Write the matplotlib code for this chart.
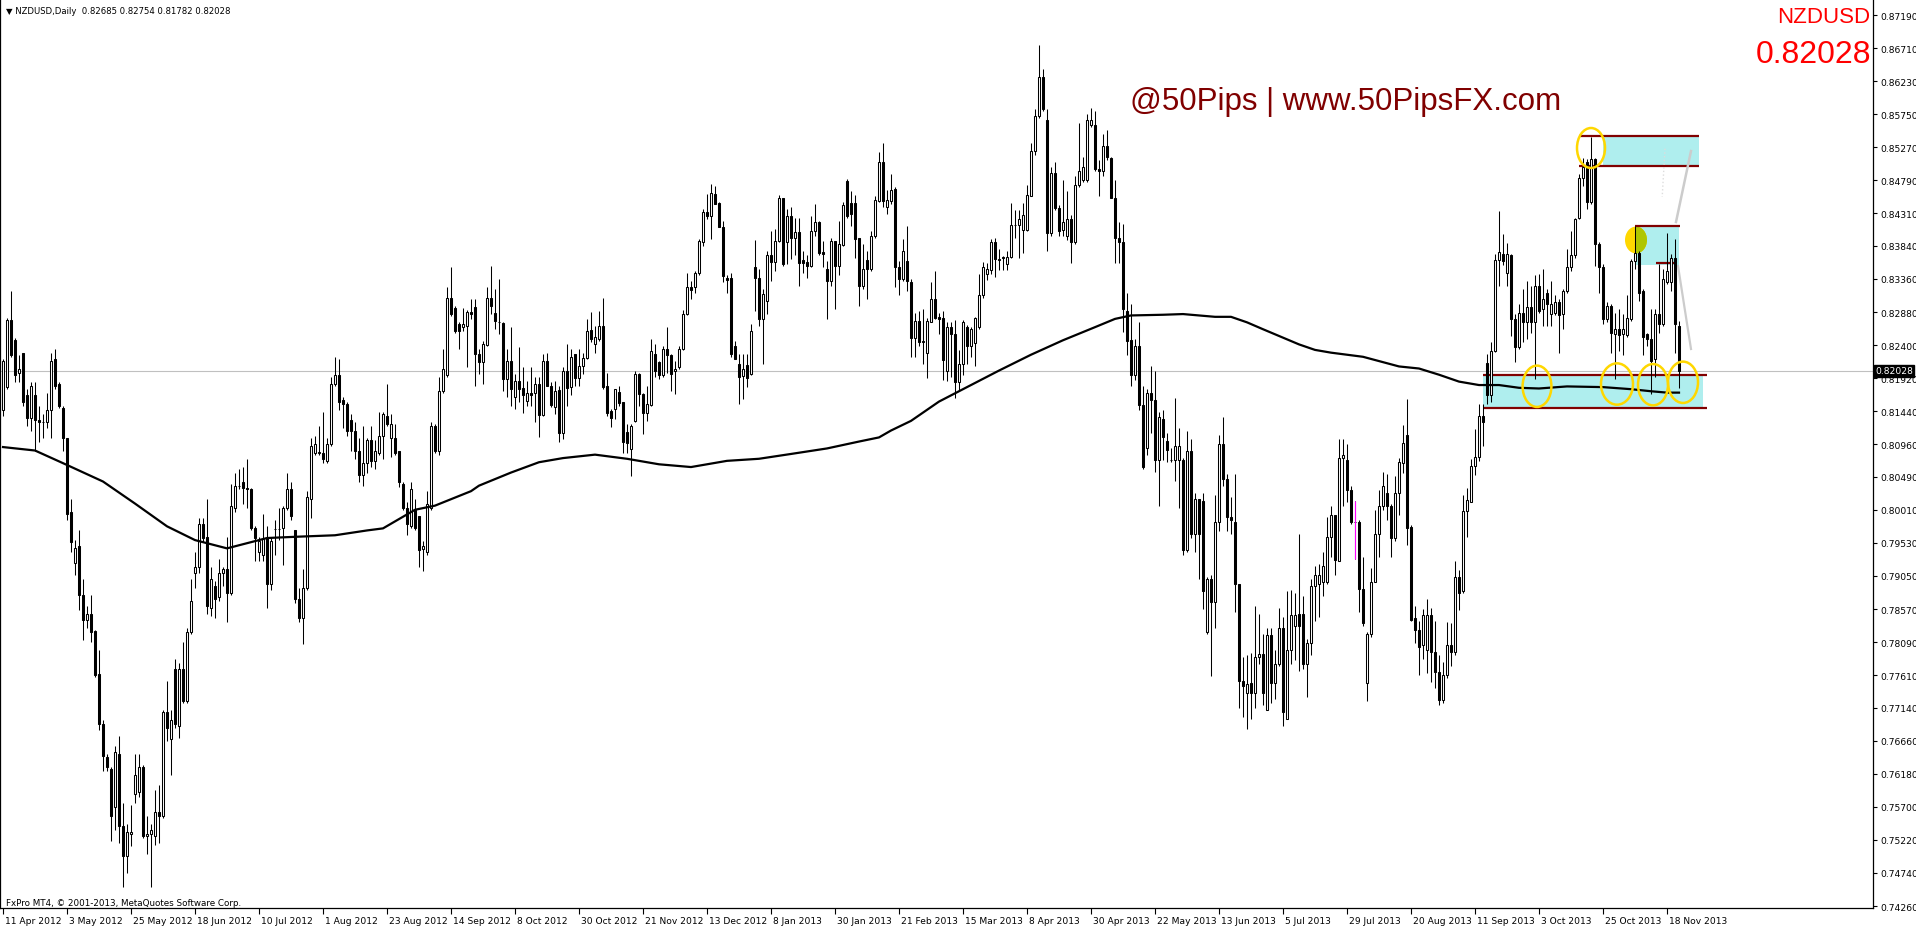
import matplotlib.pyplot as plt
import numpy as np
from matplotlib.patches import Ellipse, Rectangle
from matplotlib import transforms

# NZDUSD daily candles, prices in 1/10000, 11 Apr 2012 .. 21 Nov 2013
opens = [
    8146, 8179, 8276, 8247, 8199, 8229, 8167, 8134, 8167, 8131,
    8128, 8128, 8146, 8220, 8184, 8149, 8105, 7998, 7924, 7948,
    7877, 7841, 7850, 7825, 7762, 7690, 7642, 7625, 7569, 7646,
    7542, 7498, 7531, 7589, 7592, 7628, 7527, 7531, 7527, 7563,
    7557, 7708, 7669, 7770, 7687, 7770, 7723, 7823, 7909, 7918,
    7980, 7962, 7859, 7891, 7874, 7909, 7915, 7880, 8004, 8036,
    8041, 8033, 8031, 7974, 7939, 7936, 7960, 7894, 7973, 7973,
    7974, 8004, 8031, 7971, 7871, 7844, 7888, 8016, 8084, 8084,
    8084, 8072, 8096, 8184, 8196, 8161, 8155, 8131, 8116, 8087,
    8051, 8069, 8102, 8072, 8084, 8108, 8137, 8105, 8105, 8087,
    8039, 8004, 7977, 8001, 7992, 7944, 7939, 8004, 8122, 8087,
    8173, 8196, 8309, 8294, 8270, 8266, 8267, 8288, 8295, 8227,
    8215, 8240, 8309, 8287, 8274, 8272, 8191, 8217, 8164, 8188,
    8177, 8159, 8171, 8171, 8183, 8138, 8217, 8181, 8150, 8175,
    8113, 8203, 8179, 8227, 8192, 8210, 8221, 8262, 8241, 8249,
    8267, 8181, 8145, 8147, 8172, 8158, 8114, 8089, 8130, 8198,
    8169, 8142, 8153, 8227, 8215, 8196, 8234, 8225, 8203, 8208,
    8234, 8285, 8324, 8324, 8345, 8390, 8433, 8428, 8459, 8446,
    8411, 8338, 8337, 8239, 8213, 8195, 8211, 8198, 8353, 8338,
    8278, 8304, 8370, 8360, 8391, 8453, 8389, 8428, 8395, 8404,
    8363, 8361, 8355, 8405, 8418, 8375, 8351, 8333, 8391, 8355,
    8385, 8478, 8446, 8446, 8395, 8326, 8364, 8350, 8398, 8449,
    8505, 8441, 8449, 8466, 8353, 8336, 8362, 8331, 8250, 8275,
    8244, 8229, 8274, 8307, 8281, 8279, 8203, 8266, 8256, 8186,
    8213, 8266, 8239, 8243, 8266, 8313, 8343, 8349, 8389, 8364,
    8367, 8358, 8368, 8414, 8414, 8407, 8407, 8456, 8522, 8572,
    8629, 8566, 8403, 8489, 8439, 8407, 8399, 8423, 8389, 8473,
    8479, 8479, 8560, 8560, 8496, 8493, 8529, 8511, 8454, 8396,
    8389, 8289, 8247, 8196, 8238, 8153, 8090, 8170, 8161, 8073,
    8133, 8101, 8073, 8073, 8073, 8073, 7943, 8086, 7966, 8016,
    8014, 7823, 7900, 7867, 7983, 8096, 8046, 7990, 7983, 7893,
    7753, 7735, 7750, 7735, 7787, 7792, 7710, 7819, 7750, 7777,
    7830, 7697, 7797, 7833, 7850, 7850, 7777, 7807, 7890, 7893,
    7896, 7896, 7961, 7994, 7926, 8076, 8073, 8030, 7983, 7983,
    7886, 7750, 7820, 7896, 7966, 8006, 8026, 8006, 7960, 8025,
    8069, 8109, 7976, 7844, 7826, 7805, 7797, 7849, 7795, 7766,
    7725, 7761, 7805, 7795, 7903, 7883, 7999, 8012, 8064, 8077,
    8137, 8214, 8168, 8232, 8364, 8372, 8344, 8370, 8278, 8237,
    8287, 8273, 8295, 8273, 8326, 8292, 8316, 8285, 8287, 8302,
    8285, 8319, 8353, 8370, 8425, 8483, 8505, 8447, 8510, 8387,
    8353, 8278, 8297, 8256, 8263, 8256, 8254, 8278, 8362, 8374,
    8319, 8256, 8249, 8220, 8285, 8271, 8331, 8331, 8367, 8268,
]
highs = [
    8220, 8279, 8318, 8250, 8226, 8229, 8176, 8187, 8187, 8152,
    8140, 8170, 8229, 8235, 8187, 8152, 8105, 8016, 7957, 7971,
    7900, 7862, 7877, 7826, 7797, 7696, 7646, 7628, 7658, 7672,
    7575, 7545, 7572, 7646, 7646, 7631, 7557, 7545, 7595, 7601,
    7711, 7752, 7711, 7785, 7779, 7809, 7829, 7900, 7939, 7989,
    7989, 8016, 7918, 7897, 7930, 7918, 7962, 8039, 8054, 8060,
    8063, 8075, 8033, 7977, 7962, 7995, 7977, 7962, 7986, 8004,
    8007, 8054, 8042, 7971, 7888, 7915, 8028, 8105, 8108, 8122,
    8143, 8105, 8193, 8223, 8220, 8164, 8158, 8140, 8128, 8105,
    8122, 8105, 8122, 8102, 8143, 8143, 8184, 8140, 8125, 8087,
    8042, 8013, 8042, 8016, 7992, 7956, 8028, 8128, 8125, 8193,
    8235, 8324, 8353, 8297, 8273, 8294, 8291, 8307, 8307, 8234,
    8246, 8324, 8355, 8321, 8336, 8273, 8234, 8266, 8198, 8237,
    8208, 8188, 8208, 8193, 8193, 8227, 8229, 8186, 8188, 8181,
    8208, 8241, 8234, 8227, 8234, 8229, 8278, 8288, 8268, 8290,
    8308, 8200, 8147, 8176, 8181, 8158, 8125, 8125, 8203, 8200,
    8171, 8181, 8249, 8241, 8217, 8239, 8266, 8227, 8217, 8239,
    8291, 8345, 8333, 8348, 8394, 8437, 8459, 8474, 8471, 8447,
    8420, 8341, 8345, 8246, 8227, 8227, 8227, 8271, 8393, 8350,
    8321, 8377, 8406, 8408, 8458, 8454, 8437, 8440, 8425, 8425,
    8377, 8371, 8428, 8445, 8420, 8391, 8362, 8396, 8391, 8420,
    8447, 8481, 8464, 8458, 8396, 8387, 8377, 8406, 8457, 8520,
    8533, 8465, 8488, 8469, 8362, 8394, 8413, 8336, 8287, 8290,
    8292, 8279, 8331, 8348, 8286, 8289, 8273, 8273, 8276, 8233,
    8276, 8269, 8266, 8281, 8343, 8361, 8359, 8394, 8396, 8379,
    8369, 8376, 8446, 8436, 8436, 8446, 8473, 8533, 8582, 8676,
    8640, 8582, 8499, 8506, 8443, 8479, 8463, 8429, 8486, 8562,
    8513, 8576, 8584, 8579, 8509, 8547, 8552, 8513, 8479, 8419,
    8416, 8316, 8299, 8249, 8273, 8180, 8176, 8209, 8203, 8143,
    8146, 8113, 8090, 8163, 8120, 8076, 8116, 8103, 8026, 8016,
    8026, 7903, 7906, 8023, 8110, 8136, 8053, 8020, 8053, 7893,
    7787, 7790, 7793, 7861, 7850, 7820, 7830, 7830, 7797, 7858,
    7846, 7883, 7885, 7880, 7966, 7876, 7813, 7900, 7920, 7923,
    7940, 7990, 8006, 7994, 8103, 8103, 8096, 8036, 8014, 7986,
    7933, 7823, 7916, 8000, 8030, 8056, 8053, 8010, 8050, 8076,
    8124, 8162, 7979, 7862, 7839, 7857, 7872, 7859, 7839, 7790,
    7780, 7838, 7836, 7926, 7913, 8023, 8033, 8074, 8118, 8155,
    8155, 8227, 8245, 8372, 8434, 8401, 8388, 8372, 8285, 8299,
    8321, 8333, 8326, 8341, 8343, 8350, 8321, 8333, 8312, 8307,
    8321, 8379, 8406, 8425, 8488, 8512, 8510, 8542, 8512, 8389,
    8358, 8302, 8299, 8287, 8292, 8285, 8312, 8365, 8413, 8377,
    8321, 8258, 8292, 8292, 8358, 8350, 8403, 8372, 8394, 8275,
]
lows = [
    8137, 8176, 8223, 8187, 8187, 8152, 8122, 8116, 8087, 8099,
    8105, 8119, 8105, 8176, 8149, 8087, 7986, 7939, 7906, 7856,
    7812, 7829, 7809, 7758, 7681, 7622, 7622, 7521, 7536, 7518,
    7453, 7474, 7513, 7575, 7584, 7524, 7501, 7453, 7515, 7518,
    7554, 7666, 7616, 7684, 7670, 7720, 7720, 7820, 7888, 7909,
    7954, 7850, 7847, 7844, 7868, 7891, 7838, 7877, 7998, 8031,
    8010, 8004, 7971, 7927, 7927, 7927, 7859, 7885, 7936, 7957,
    7921, 8001, 7986, 7865, 7838, 7806, 7885, 7989, 8081, 8081,
    8069, 8069, 8093, 8181, 8146, 8119, 8108, 8087, 8075, 8042,
    8036, 8054, 8063, 8060, 8081, 8075, 8122, 8078, 8081, 8034,
    8001, 7965, 7974, 7971, 7918, 7912, 7936, 8001, 8084, 8081,
    8170, 8193, 8282, 8258, 8235, 8261, 8208, 8278, 8181, 8198,
    8183, 8239, 8285, 8263, 8256, 8174, 8164, 8152, 8147, 8157,
    8142, 8152, 8152, 8128, 8106, 8137, 8181, 8150, 8140, 8099,
    8104, 8152, 8167, 8181, 8181, 8198, 8220, 8244, 8229, 8246,
    8176, 8137, 8121, 8133, 8152, 8084, 8084, 8050, 8128, 8152,
    8111, 8130, 8152, 8193, 8191, 8193, 8200, 8174, 8169, 8205,
    8233, 8283, 8307, 8316, 8341, 8384, 8423, 8394, 8445, 8411,
    8331, 8316, 8222, 8220, 8154, 8162, 8179, 8197, 8290, 8268,
    8212, 8285, 8333, 8348, 8389, 8355, 8358, 8365, 8371, 8326,
    8345, 8338, 8353, 8399, 8370, 8353, 8278, 8326, 8292, 8341,
    8384, 8425, 8413, 8367, 8296, 8321, 8307, 8348, 8396, 8447,
    8440, 8430, 8445, 8324, 8312, 8333, 8319, 8222, 8222, 8239,
    8212, 8192, 8273, 8278, 8256, 8189, 8188, 8193, 8163, 8173,
    8196, 8213, 8223, 8209, 8263, 8309, 8334, 8343, 8339, 8349,
    8349, 8349, 8366, 8396, 8366, 8373, 8406, 8456, 8516, 8569,
    8579, 8376, 8399, 8436, 8399, 8399, 8393, 8359, 8386, 8469,
    8476, 8476, 8556, 8493, 8456, 8486, 8509, 8453, 8359, 8359,
    8259, 8226, 8180, 8189, 8146, 8060, 8080, 8113, 8056, 8006,
    8073, 8070, 8070, 8043, 8003, 7936, 7940, 7960, 7940, 7900,
    7857, 7820, 7760, 7830, 7970, 8036, 7970, 7966, 7853, 7713,
    7700, 7683, 7697, 7713, 7777, 7717, 7710, 7720, 7727, 7774,
    7687, 7697, 7777, 7783, 7767, 7770, 7730, 7790, 7840, 7846,
    7876, 7893, 7933, 7906, 7926, 8006, 8013, 7980, 7930, 7853,
    7833, 7723, 7817, 7896, 7933, 8000, 7986, 7933, 7956, 7993,
    8054, 7950, 7839, 7808, 7761, 7784, 7764, 7751, 7743, 7717,
    7720, 7757, 7774, 7790, 7855, 7880, 7961, 8012, 8051, 8072,
    8093, 8155, 8157, 8230, 8326, 8356, 8326, 8253, 8215, 8234,
    8244, 8249, 8258, 8191, 8287, 8268, 8268, 8268, 8283, 8229,
    8263, 8316, 8348, 8367, 8423, 8471, 8437, 8445, 8355, 8316,
    8271, 8273, 8229, 8191, 8232, 8225, 8251, 8275, 8350, 8304,
    8225, 8239, 8169, 8193, 8258, 8268, 8329, 8319, 8229, 8178,
]
closes = [
    8217, 8276, 8226, 8196, 8206, 8158, 8134, 8181, 8131, 8129,
    8128, 8146, 8217, 8181, 8152, 8105, 7995, 7954, 7945, 7877,
    7841, 7850, 7823, 7761, 7690, 7643, 7628, 7557, 7649, 7542,
    7498, 7533, 7533, 7616, 7628, 7527, 7530, 7536, 7563, 7557,
    7708, 7684, 7696, 7690, 7770, 7723, 7823, 7868, 7918, 7980,
    7960, 7862, 7900, 7871, 7909, 7915, 7880, 8007, 8036, 8036,
    8033, 8031, 7974, 7960, 7956, 7959, 7894, 7956, 7973, 7973,
    8004, 8031, 7992, 7871, 7844, 7888, 8019, 8093, 8096, 8084,
    8075, 8096, 8184, 8196, 8158, 8155, 8116, 8116, 8087, 8051,
    8069, 8102, 8072, 8087, 8108, 8140, 8125, 8125, 8084, 8042,
    8004, 7980, 8031, 7974, 7942, 7948, 8010, 8122, 8087, 8173,
    8205, 8309, 8285, 8261, 8260, 8270, 8288, 8285, 8227, 8215,
    8241, 8309, 8297, 8275, 8274, 8191, 8217, 8176, 8188, 8176,
    8167, 8171, 8168, 8183, 8138, 8217, 8181, 8153, 8174, 8113,
    8203, 8177, 8222, 8192, 8210, 8221, 8261, 8249, 8251, 8267,
    8179, 8142, 8134, 8176, 8156, 8099, 8098, 8123, 8198, 8169,
    8142, 8154, 8232, 8203, 8196, 8235, 8225, 8198, 8206, 8235,
    8285, 8324, 8320, 8345, 8391, 8433, 8428, 8461, 8445, 8412,
    8340, 8335, 8227, 8220, 8193, 8205, 8192, 8261, 8337, 8278,
    8314, 8370, 8360, 8391, 8454, 8358, 8428, 8395, 8404, 8359,
    8359, 8355, 8405, 8419, 8374, 8372, 8333, 8391, 8355, 8387,
    8443, 8428, 8430, 8394, 8326, 8351, 8350, 8399, 8450, 8505,
    8449, 8450, 8465, 8353, 8336, 8377, 8333, 8250, 8275, 8244,
    8246, 8275, 8307, 8280, 8278, 8218, 8266, 8256, 8186, 8213,
    8273, 8239, 8263, 8279, 8313, 8353, 8351, 8389, 8365, 8364,
    8367, 8368, 8414, 8414, 8423, 8429, 8458, 8522, 8572, 8629,
    8582, 8403, 8489, 8439, 8406, 8419, 8423, 8389, 8473, 8493,
    8499, 8566, 8566, 8496, 8493, 8529, 8513, 8454, 8396, 8389,
    8293, 8246, 8196, 8239, 8153, 8063, 8170, 8160, 8073, 8136,
    8106, 8088, 8073, 8093, 8093, 7943, 8086, 7966, 8016, 7966,
    7883, 7900, 7867, 7983, 8096, 8046, 7990, 7986, 7893, 7753,
    7745, 7748, 7735, 7788, 7792, 7735, 7819, 7750, 7777, 7830,
    7707, 7797, 7848, 7848, 7833, 7777, 7807, 7890, 7906, 7906,
    7920, 7961, 7993, 7928, 8076, 8081, 8030, 7983, 7983, 7886,
    7836, 7820, 7896, 7966, 8006, 8036, 8006, 7960, 8026, 8070,
    8098, 7974, 7841, 7826, 7802, 7849, 7849, 7795, 7766, 7725,
    7761, 7805, 7795, 7903, 7880, 7999, 8015, 8064, 8077, 8137,
    8129, 8168, 8232, 8364, 8375, 8362, 8372, 8278, 8237, 8287,
    8273, 8295, 8273, 8326, 8290, 8307, 8300, 8300, 8302, 8283,
    8319, 8353, 8370, 8423, 8483, 8498, 8447, 8510, 8387, 8353,
    8278, 8297, 8258, 8263, 8254, 8263, 8280, 8362, 8374, 8316,
    8251, 8249, 8217, 8285, 8271, 8336, 8348, 8367, 8271, 8203,
]

# moving average line, read at points along the curve (bar index, price/10000)
ma_idx = [0, 8, 16, 25, 33, 41, 48, 56, 66, 74, 83, 91, 95, 103, 108, 117, 119, 127, 134, 140,
          148, 156, 164, 172, 181, 189, 197, 206, 214, 219, 222, 227, 234, 240, 249, 257, 265, 273, 278, 282,
          290, 295, 303, 307, 311, 315, 324, 328, 332, 340, 349, 354, 359, 364, 369, 374, 379, 384, 391, 400,
          407, 412, 416, 419]
ma_val = [8092, 8087, 8066, 8042, 8010, 7977, 7957, 7945, 7960, 7962, 7964, 7971, 7974, 8001, 8007, 8028, 8036, 8055, 8070, 8076,
          8081, 8075, 8067, 8063, 8072, 8075, 8082, 8090, 8100, 8106, 8116, 8130, 8158, 8176, 8203, 8226, 8247, 8266, 8278, 8283,
          8284, 8285, 8281, 8281, 8273, 8263, 8241, 8233, 8229, 8223, 8209, 8206, 8197, 8187, 8182, 8182, 8178, 8177, 8180, 8179,
          8176, 8173, 8171, 8171]

date_labels = ["11 Apr 2012", "3 May 2012", "25 May 2012", "18 Jun 2012", "10 Jul 2012", "1 Aug 2012",
               "23 Aug 2012", "14 Sep 2012", "8 Oct 2012", "30 Oct 2012", "21 Nov 2012", "13 Dec 2012",
               "8 Jan 2013", "30 Jan 2013", "21 Feb 2013", "15 Mar 2013", "8 Apr 2013", "30 Apr 2013",
               "22 May 2013", "13 Jun 2013", "5 Jul 2013", "29 Jul 2013", "20 Aug 2013", "11 Sep 2013",
               "3 Oct 2013", "25 Oct 2013", "18 Nov 2013"]
price_ticks = [0.87190, 0.86710, 0.86230, 0.85750, 0.85270, 0.84790, 0.84310, 0.83840, 0.83360, 0.82880,
               0.82400, 0.81920, 0.81440, 0.80960, 0.80490, 0.80010, 0.79530, 0.79050, 0.78570, 0.78090,
               0.77610, 0.77140, 0.76660, 0.76180, 0.75700, 0.75220, 0.74740, 0.74260]
bid = 0.82028

plt.rcParams['font.family'] = ['DejaVu Sans']

o = np.array(opens) / 10000
c = np.array(closes) / 10000
h = np.maximum(np.array(highs) / 10000, np.maximum(o, c))
l = np.minimum(np.array(lows) / 10000, np.minimum(o, c))
x = np.arange(len(c))

W, H = 1916, 928
fig = plt.figure(figsize=(W / 100, H / 100), dpi=100)
ax = fig.add_axes([0, 1 - 909 / H, 1873 / W, 909 / H])
ax.set_xlim(-0.75, 467.5)
ax.set_ylim(0.74231, 0.874222)

# zones (background)
cyan = '#afeeee'
red = '#800000'
ax.fill_between([370, 425], 0.81491, 0.81966, color=cyan, lw=0, zorder=0.5)
ax.fill_between([400, 424], 0.85003, 0.85438, color=cyan, lw=0, zorder=0.5)
ax.fill_between([408.3, 419], 0.83566, 0.84132, color=cyan, lw=0, zorder=0.5)
ax.hlines([0.81966, 0.81491], 370, 426, color=red, lw=1.6, zorder=2)
ax.hlines([0.85438, 0.85003], 394, 424, color=red, lw=1.6, zorder=2)
ax.hlines(0.84132, 408, 419.25, color=red, lw=1.6, zorder=2)
ax.hlines(0.83587, 413.2, 418.4, color=red, lw=1.6, zorder=2)

# filled dot, olive where it overlaps the cyan zone
ax.add_patch(Ellipse((408.25, 0.83925), 5.5, 0.0039, fc='#ffd700', ec='none', zorder=1))
olive = Ellipse((408.25, 0.83925), 5.5, 0.0039, fc='#afc600', ec='none', zorder=1.1)
ax.add_patch(olive)
olive.set_clip_path(Rectangle((408.3, 0.83566), 10.7, 0.00566, transform=ax.transData))

ax.axhline(bid, color='#c0c0c0', lw=0.8, zorder=1)

# candles
up = c >= o
ax.vlines(x, l, h, color='black', lw=0.75, zorder=3)
ax.bar(x, np.maximum(np.abs(c - o), 0.00002), bottom=np.minimum(o, c), width=0.5,
       color=np.where(up, 'white', 'black'), edgecolor='black', lw=0.75, zorder=4)
ax.vlines(338, 0.7930, 0.8014, color='magenta', lw=0.8, zorder=4.5)

ax.plot(ma_idx, np.array(ma_val) / 10000, color='black', lw=1.6, zorder=5)

# trend lines and circles
ax.plot([422, 418.25], [0.85216, 0.84186], color='#cccccc', lw=1.8, zorder=2.5)
ax.plot([418.75, 422], [0.83548, 0.82343], color='#cccccc', lw=1.6, zorder=2.5)
ax.plot([415.5, 414.8], [0.8525, 0.8455], color='#dddddd', lw=1, ls=':', zorder=2.5)
ax.add_patch(Ellipse((397, 0.8526), 7, 0.0058, fill=False, ec='#ffd700', lw=1.8, zorder=6))
for cx, cy, w in [(383.5, 0.81802, 7.2), (403.5, 0.81835, 8), (412.5, 0.81825, 7.5), (420, 0.81860, 7.5)]:
    ax.add_patch(Ellipse((cx, cy), w, 0.0060, fill=False, ec='#ffd700', lw=1.8, zorder=6))

# axes
ax.spines['top'].set_visible(False)
for s in ['left', 'bottom', 'right']:
    ax.spines[s].set_linewidth(0.9)
ax.set_xticks(np.arange(0, len(c), 16))
ax.set_xticklabels(date_labels, fontsize=6.6, ha='left')
ax.tick_params(axis='x', length=4, width=0.8, pad=2)
shift = transforms.ScaledTranslation(2 / 100, 0, fig.dpi_scale_trans)
for lab in ax.get_xticklabels():
    lab.set_transform(lab.get_transform() + shift)
ax.yaxis.tick_right()
ax.set_yticks(price_ticks)
ax.set_yticklabels([f"{v:.5f}" for v in price_ticks], fontsize=6.6)
ax.tick_params(axis='y', length=3, width=0.8, pad=2)

bt = transforms.blended_transform_factory(ax.transAxes, ax.transData)
ax.text(1.0012, bid, f"{bid:.5f}", transform=bt, color='white', fontsize=6.6, va='center', ha='left',
        bbox=dict(boxstyle='square,pad=0.15', fc='black', ec='black'), zorder=10, clip_on=False)

# texts
fig.text(1130 / W, 1 - 110 / H, "@50Pips | www.50PipsFX.com", fontsize=22.5, family='Liberation Sans',
         color='#800000', va='baseline')
fig.text(1870 / W, 1 - 23 / H, "NZDUSD", fontsize=16, family='Liberation Sans', color='red',
         ha='right', va='baseline')
fig.text(1871 / W, 1 - 63 / H, "0.82028", fontsize=23, family='Liberation Sans', color='red',
         ha='right', va='baseline')
fig.text(6 / W, 1 - 14 / H, "\u25bc NZDUSD,Daily  0.82685 0.82754 0.81782 0.82028", fontsize=6.1, va='baseline')
fig.text(6 / W, 1 - 906 / H, "FxPro MT4, \u00a9 2001-2013, MetaQuotes Software Corp.", fontsize=6.3, va='baseline')

fig.savefig('out.png', dpi=100)
